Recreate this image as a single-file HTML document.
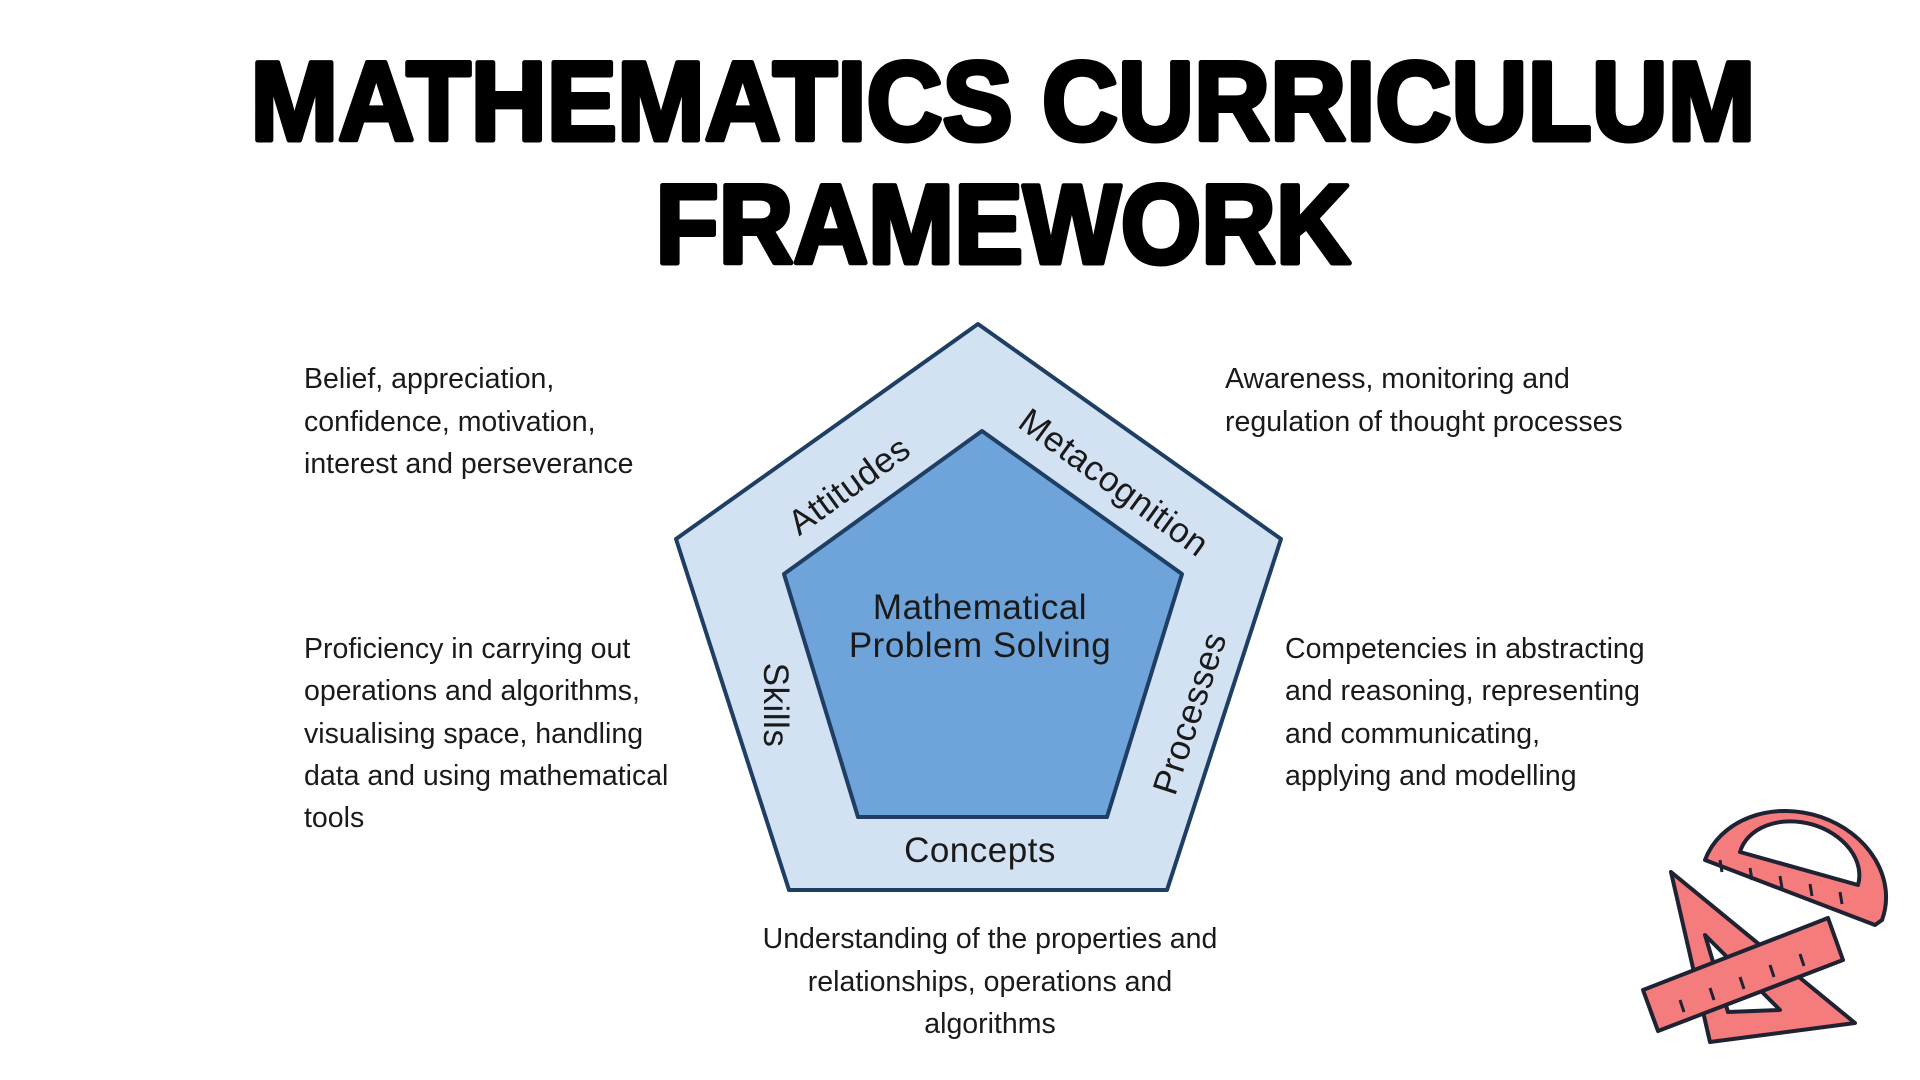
<!DOCTYPE html>
<html><head><meta charset="utf-8"><style>
html,body{margin:0;padding:0;background:#fff;width:1920px;height:1080px;overflow:hidden}
svg{display:block}
.b{font-family:"Liberation Sans",sans-serif;font-size:28.5px;fill:#1a1a1a}
.p{font-family:"Liberation Sans",sans-serif;font-size:35px;fill:#1a1a1a;letter-spacing:0.5px}
</style></head><body>
<svg width="1920" height="1080" viewBox="0 0 1920 1080">
<text x="1003" y="140" text-anchor="middle" font-family="Liberation Sans,sans-serif" font-weight="bold" font-size="112" textLength="1505" lengthAdjust="spacingAndGlyphs" fill="#000" stroke="#000" stroke-width="5" stroke-linejoin="round">MATHEMATICS CURRICULUM</text>
<text x="1003" y="263" text-anchor="middle" font-family="Liberation Sans,sans-serif" font-weight="bold" font-size="112" textLength="695" lengthAdjust="spacingAndGlyphs" fill="#000" stroke="#000" stroke-width="5" stroke-linejoin="round">FRAMEWORK</text>

<polygon points="978,324 1281,539 1167,890 789,890 676,539" fill="#d3e2f3" stroke="#1f3e64" stroke-width="4" stroke-linejoin="round"/>
<polygon points="982,431 1182,574 1107,817 858,817 784,574" fill="#6fa4da" stroke="#1f3e64" stroke-width="4" stroke-linejoin="round"/>
<text class="p" x="980" y="619" text-anchor="middle">Mathematical</text>
<text class="p" x="980" y="657" text-anchor="middle">Problem Solving</text>
<text class="p" x="980" y="862" text-anchor="middle">Concepts</text>
<text class="p" text-anchor="middle" transform="translate(856,495) rotate(-36)">Attitudes</text>
<text class="p" text-anchor="middle" transform="translate(1107,492) rotate(36)">Metacognition</text>
<text class="p" text-anchor="middle" transform="translate(764,705) rotate(90)">Skills</text>
<text class="p" text-anchor="middle" transform="translate(1201,717) rotate(-72)">Processes</text>

<text class="b" x="304" y="388">Belief, appreciation,</text>
<text class="b" x="304" y="431">confidence, motivation,</text>
<text class="b" x="304" y="473">interest and perseverance</text>

<text class="b" x="304" y="658">Proficiency in carrying out</text>
<text class="b" x="304" y="700">operations and algorithms,</text>
<text class="b" x="304" y="743">visualising space, handling</text>
<text class="b" x="304" y="785">data and using mathematical</text>
<text class="b" x="304" y="827">tools</text>

<text class="b" x="1225" y="388">Awareness, monitoring and</text>
<text class="b" x="1225" y="431">regulation of thought processes</text>

<text class="b" x="1285" y="658">Competencies in abstracting</text>
<text class="b" x="1285" y="700">and reasoning, representing</text>
<text class="b" x="1285" y="743">and communicating,</text>
<text class="b" x="1285" y="785">applying and modelling</text>

<text class="b" x="990" y="948" text-anchor="middle">Understanding of the properties and</text>
<text class="b" x="990" y="991" text-anchor="middle">relationships, operations and</text>
<text class="b" x="990" y="1033" text-anchor="middle">algorithms</text>

<g stroke="#1e2233" stroke-width="4" stroke-linejoin="round" fill="#f47c7c">
<path d="M1705,860 A90,75 15 0 1 1882,920 L1875,925 Z"/>
<path d="M1740,852 A60,45 15 0 1 1858,885 Z" fill="#fff"/>
<polygon points="1671,872 1855,1023 1710,1042"/>
<polygon points="1705,935 1780,1010 1728,1012" fill="#fff"/>
<polygon points="1643,990 1828,918 1843,960 1658,1031"/>
</g>
<g stroke="#1e2233" stroke-width="3">
<line x1="1720" y1="860" x2="1722" y2="872"/><line x1="1750" y1="868" x2="1752" y2="880"/><line x1="1780" y1="876" x2="1782" y2="888"/><line x1="1810" y1="884" x2="1812" y2="896"/><line x1="1840" y1="892" x2="1842" y2="904"/>
<line x1="1680" y1="1000" x2="1684" y2="1012"/><line x1="1710" y1="988" x2="1714" y2="1000"/><line x1="1740" y1="977" x2="1744" y2="989"/><line x1="1770" y1="965" x2="1774" y2="977"/><line x1="1800" y1="954" x2="1804" y2="966"/>
</g>
</svg>
</body></html>
